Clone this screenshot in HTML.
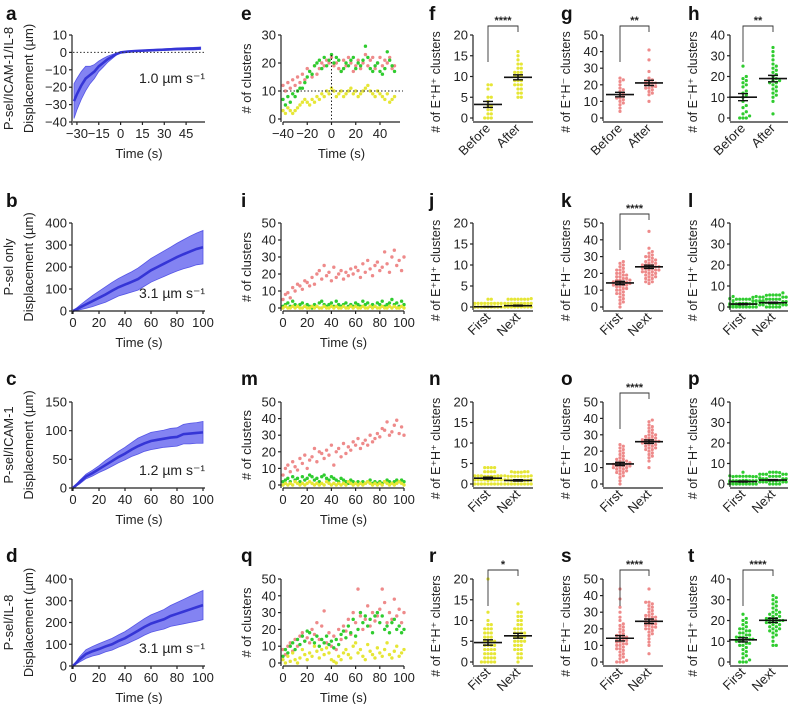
<!DOCTYPE html>
<html><head><meta charset="utf-8">
<style>
html,body{margin:0;padding:0;background:#fff;}
svg{display:block;font-family:"Liberation Sans",sans-serif;}
</style></head>
<body>
<svg id="fig" width="788" height="704" viewBox="0 0 788 704" xmlns="http://www.w3.org/2000/svg"></svg>
<script>
// ---------- data ----------
const timesA=[-32,-30,-27,-24,-21,-18,-15,-12,-9,-6,-3,0,5,10,20,30,40,50,55];
const meanA=[-28,-24,-19,-15,-13,-11,-8,-6,-4,-2.5,-1,0,0.5,0.8,1.2,1.6,2,2.2,2.4];
const sdA=[10,9,8,7,5,4,3,2.5,1.8,1.2,0.6,0.2,0.3,0.3,0.4,0.5,0.6,0.7,0.7];
const timesLine=[0,5,10,15,20,25,30,35,40,45,50,55,60,65,70,75,80,85,90,95,100];
const meanB=[0,15,30,45,60,75,92,108,120,132,145,165,185,200,215,230,245,258,270,282,290];
const sdB=[0,10,18,25,30,35,38,40,43,46,50,52,54,56,58,60,63,66,70,72,76];
const meanC=[0,10,20,26,33,40,47,54,60,67,73,78,82,84,86,88,89,94,95,96,97];
const sdC=[0,3,4,5,6,8,9,10,11,12,14,14,15,15,15,16,16,17,18,18,19];
const meanD=[0,30,55,68,78,90,100,115,128,145,162,180,195,205,215,230,240,250,260,270,280];
const sdD=[0,12,20,22,25,25,27,28,30,33,36,38,40,42,45,48,52,56,60,64,67];

const timesE=[-40,-38,-36,-34,-32,-30,-28,-26,-24,-22,-20,-18,-16,-14,-12,-10,-8,-6,-4,-2,0,2,4,6,8,10,12,14,16,18,20,22,24,26,28,30,32,34,36,38,40,42,44,46,48,50,52];
const redE=[12,10,13,11,14,12,15,13,16,14,18,17,15,19,16,18,20,19,21,20,22,19,20,18,17,21,19,22,20,17,19,21,18,20,23,19,21,22,18,20,22,19,21,20,22,18,19];
const greenE=[7,5,8,6,9,8,10,11,11,13,15,17,16,19,20,21,18,22,19,21,23,20,22,21,17,18,20,19,21,22,18,20,19,21,26,22,18,17,19,20,17,16,18,24,21,19,17];
const yellowE=[3,2,4,3,2,3,4,5,6,7,6,5,7,6,8,7,9,8,10,9,11,10,8,9,10,8,9,10,11,9,10,8,9,10,11,12,10,9,8,10,9,8,7,9,6,7,8];
const timesB=[0,2,4,6,8,10,12,14,16,18,20,22,24,26,28,30,32,34,36,38,40,42,44,46,48,50,52,54,56,58,60,62,64,66,68,70,72,74,76,78,80,82,84,86,88,90,92,94,96,98,100];
const redI=[5,8,9,6,12,10,14,13,11,16,15,13,18,14,20,22,17,25,19,21,16,24,18,20,22,17,21,19,23,20,24,22,18,26,21,28,23,19,25,27,22,24,33,26,21,30,34,25,28,22,30];
const greenI=[1,2,3,1,4,2,1,2,3,1,2,1,0,2,1,3,4,2,1,2,3,1,4,2,1,2,3,1,2,1,3,2,1,4,2,3,1,2,1,3,2,4,1,2,3,5,2,3,1,4,2];
const yellowI=[0,1,0,0,1,0,1,0,0,1,0,0,1,0,1,0,0,1,0,0,1,0,1,0,0,1,0,0,1,0,1,0,0,1,0,0,1,0,1,0,0,1,0,0,1,0,1,0,0,1,0];
const redM=[6,10,12,8,14,11,9,16,13,18,10,15,17,22,14,20,19,16,21,18,24,12,20,22,17,25,19,23,21,26,24,28,22,25,27,24,30,26,28,31,29,34,33,38,30,32,36,39,31,35,30];
const greenM=[2,3,4,2,5,3,4,2,5,3,4,6,5,3,4,2,5,6,4,3,5,4,3,2,4,3,2,1,3,2,1,2,1,2,1,2,3,1,2,1,2,1,2,3,2,1,2,3,2,3,2];
const yellowM=[0,1,0,1,0,2,1,0,1,0,1,2,1,0,1,0,1,0,2,1,0,1,0,1,0,1,0,2,1,0,1,0,1,0,1,2,1,0,1,0,1,0,2,1,0,1,0,1,2,1,0];
const redQ=[8,5,10,12,7,14,10,16,18,13,15,12,20,17,24,14,22,31,12,18,10,16,8,20,14,22,19,26,17,30,24,44,28,20,26,34,22,30,25,28,32,44,36,24,30,26,38,28,32,24,30];
const greenQ=[4,8,6,10,12,8,14,11,16,13,19,18,14,12,16,10,14,12,16,11,13,9,14,11,17,19,15,22,18,26,16,20,30,24,28,22,26,18,28,30,24,28,20,22,18,24,26,20,22,18,20];
const yellowQ=[2,0,4,1,6,2,0,3,8,5,2,6,4,10,7,3,8,5,9,6,2,1,0,4,2,6,8,5,3,10,12,6,8,4,2,11,7,5,3,9,6,4,8,12,5,3,7,10,4,6,8];

const catsRow1=['Before','After'];
const catsOther=['First','Next'];
const fBefore=[0,0,0,1,1,2,2,3,3,4,5,5,7,8,8];
const fAfter=[5,5,6,6,7,7,8,8,8,9,9,9,10,10,10,11,11,11,12,12,13,13,14,15,16];
const gBefore=[4,6,8,9,10,11,12,12,13,14,15,16,17,18,20,22,23,24];
const gAfter=[10,14,15,16,17,18,18,19,19,20,20,21,21,22,22,23,24,28,35,41];
const hBefore=[0,0,0,1,2,3,5,6,8,10,11,12,13,15,16,17,18,19,20,25];
const hAfter=[2,8,10,11,12,13,14,15,16,17,17,18,18,19,20,21,22,23,24,25,26,28,30,32,34];
const jFirst=[0,0,0,0,0,0,0,0,0,0,0,0,0,0,0,0,0,0,0,0,0,0,0,0,0,0,0,0,0,0,1,1];
const jNext=[0,0,0,0,0,0,0,0,0,0,0,0,0,0,0,0,0,0,0,0,1,1,1,1,1,1,1,2];
const kFirst=[0,2,3,4,5,6,7,8,8,9,10,10,11,11,12,12,13,13,13,14,14,14,15,15,15,16,16,16,17,17,18,18,19,19,20,20,21,22,22,23,24,25,26,27];
const kNext=[14,15,15,16,17,17,18,18,19,19,20,20,21,21,21,22,22,22,23,23,23,24,24,24,25,25,25,26,26,27,27,28,28,29,30,30,31,32,33,35,45];
const lFirst=[0,0,0,0,0,0,0,0,0,0,0,0,1,1,1,1,1,1,1,1,1,1,2,2,2,2,2,3,3,3,4,4,5,5];
const lNext=[0,0,0,0,0,1,1,1,1,1,1,1,1,2,2,2,2,2,2,2,2,2,2,3,3,3,3,3,3,4,4,4,4,5,5];
const nFirst=[0,0,0,0,0,0,0,0,0,0,1,1,1,1,1,1,1,1,1,1,1,1,2,2,2,2,2,3,3,3,3,4,4,4,4];
const nNext=[0,0,0,0,0,0,0,0,0,0,0,0,0,0,0,1,1,1,1,1,1,1,1,1,1,2,2,2,2,2,3,3,3];
const oFirst=[0,2,4,5,6,7,7,8,8,9,9,10,10,10,11,11,11,12,12,12,13,13,13,14,14,15,15,16,17,18,19,20,21,22,23,24];
const oNext=[10,14,16,17,18,19,20,21,21,22,22,23,23,24,24,25,25,25,26,26,26,27,27,27,28,28,29,29,30,30,31,32,33,34,35,36,38,39];
const pFirst=[0,0,0,0,0,0,0,0,0,0,0,1,1,1,1,1,1,1,1,1,1,2,2,2,2,2,3,3,3,4,4];
const pNext=[0,0,0,0,1,1,1,1,1,1,1,1,1,2,2,2,2,2,2,2,2,2,3,3,3,3,3,3,4,4,4,5];
const rFirst=[0,0,0,0,0,1,1,1,1,2,2,2,2,3,3,3,3,4,4,4,4,5,5,5,5,6,6,6,7,7,7,8,8,8,9,9,10,12,20];
const rNext=[0,1,1,2,2,3,3,3,4,4,4,5,5,5,5,6,6,6,6,7,7,7,7,8,8,8,9,9,10,10,11,11,12,12,14];
const sFirst=[0,0,0,1,2,3,4,5,6,7,8,8,9,10,10,11,11,12,12,13,13,14,14,15,15,16,16,17,18,19,20,21,22,23,25,27,30,33,38,44];
const sNext=[5,10,12,14,16,17,18,19,20,20,21,21,22,22,23,23,24,24,25,25,26,26,27,27,28,28,29,30,31,32,33,34,35,36,36,44];
const tFirst=[0,0,0,1,2,3,4,5,6,7,8,8,9,9,10,10,10,11,11,11,12,12,12,13,13,14,14,15,15,16,16,17,18,19,20,21,23];
const tNext=[8,8,10,12,13,14,15,15,16,16,17,17,18,18,19,19,19,20,20,20,21,21,21,22,22,23,23,24,24,25,26,27,28,29,30,31,32];

// ---------- helpers ----------
const NS='http://www.w3.org/2000/svg';
const svg=document.getElementById('fig');
function mk(tag,attrs,parent){const e=document.createElementNS(NS,tag);for(const k in attrs)e.setAttribute(k,attrs[k]);(parent||svg).appendChild(e);return e;}
function txt(str,attrs,parent){const e=mk('text',attrs,parent);e.textContent=str;return e;}
const RED='#ee8a8a',GREEN='#2fcc2f',YEL='#e6e636';
const rowTop=[35,223,402,579],rowBot=[122,311,488,666],letterY=[20,207,385,562];
function sx(p,v){return p.x0+(v-p.xd[0])/(p.xd[1]-p.xd[0])*(p.x1-p.x0);}
function sy(p,v){return p.top+(p.yd[1]-v)/(p.yd[1]-p.yd[0])*(p.bot-3-p.top);}

function panelLetter(ch,x,y){
  const t=txt(ch,{x:x,y:y,'font-size':19,'font-weight':'bold',fill:'#111'});
  
  
}
function yTitle(g,str,x,yc,size){
  const t=txt(str,{x:x,y:yc,'font-size':size||13,'text-anchor':'middle',fill:'#222',transform:'rotate(-90 '+x+' '+yc+')'},g);
  
  
}
function yAxis(g,p,ticks,axX){
  const ax=mk('line',{x1:axX,y1:p.top,x2:axX,y2:p.bot,stroke:'#222','stroke-width':1.2},g);
  
  
  ticks.forEach(v=>{const y=sy(p,v);
    mk('line',{x1:axX-3,y1:y,x2:axX,y2:y,stroke:'#222','stroke-width':1.2},g);
    const t=txt(String(v).replace('-','\u2212'),{x:axX-5,y:y+4.5,'font-size':13,'text-anchor':'end',fill:'#222'},g);
    
    
  });
}
function xAxis(g,p,ticks,x2){
  const ax=mk('line',{x1:p.x0,y1:p.bot,x2:x2,y2:p.bot,stroke:'#222','stroke-width':1.2},g);
  
  
  ticks.forEach(v=>{const x=sx(p,v);
    mk('line',{x1:x,y1:p.bot,x2:x,y2:p.bot+3,stroke:'#222','stroke-width':1.2},g);
    const t=txt(String(v).replace('-','\u2212'),{x:x,y:p.bot+16,'font-size':13,'text-anchor':'middle',fill:'#222'},g);
    
    
  });
  const tt=txt('Time (s)',{x:(p.x0+x2)/2,y:p.bot+36,'font-size':13,'text-anchor':'middle',fill:'#222'},g);
  
  
}

// ---------- line (displacement) panels ----------
function linePanel(name,row,times,mean,sd,yd,yticks,xd,xticks,cond,speed,speedDy){
  const g=mk('g',{});
  
  
  const p={x0:73,x1:203,top:rowTop[row],bot:rowBot[row]+3,xd:xd,yd:yd};
  let up=[],dn=[],ln=[];
  times.forEach((t,i)=>{up.push(sx(p,t)+','+sy(p,mean[i]+sd[i]));dn.unshift(sx(p,t)+','+sy(p,Math.max(yd[0],mean[i]-sd[i])));ln.push(sx(p,t)+','+sy(p,mean[i]));});
  const band=mk('polygon',{points:up.concat(dn).join(' '),fill:'#8383f2',stroke:'#5555e6','stroke-width':0.8},g);
  
  
  const line=mk('polyline',{points:ln.join(' '),fill:'none',stroke:'#3535d6','stroke-width':2.6},g);
  
  
  if(yd[0]<0){const z=sy(p,0);
    const d=mk('line',{x1:p.x0,y1:z,x2:205,y2:z,stroke:'#333','stroke-width':1,'stroke-dasharray':'1.5,2'},g);
    
    }
  yAxis(g,p,yticks,72);
  const xp={x0:73,x1:203,top:p.top,bot:rowBot[row],xd:xd,yd:yd};
  xAxis(g,xp,xticks,205);
  yTitle(g,'Displacement (\u00b5m)',33,(p.top+xp.bot)/2);
  yTitle(g,cond,13,(p.top+xp.bot)/2);
  const s=txt(speed,{x:172,y:xp.bot-speedDy,'font-size':14,'text-anchor':'middle',fill:'#222'},g);
  
  
}

linePanel('a',0,timesA,meanA,sdA,[-40,10],[10,0,-10,-20,-30,-40],[-32.7,56.6],[-30,-15,0,15,30,45],'P-sel/ICAM-1/IL-8','1.0 \u00b5m s\u207b\u00b9',39);
linePanel('b',1,timesLine,meanB,sdB,[0,400],[400,300,200,100,0],[0,100],[0,20,40,60,80,100],'P-sel only','3.1 \u00b5m s\u207b\u00b9',13);
linePanel('c',2,timesLine,meanC,sdC,[0,150],[150,100,50,0],[0,100],[0,20,40,60,80,100],'P-sel/ICAM-1','1.2 \u00b5m s\u207b\u00b9',13);
linePanel('d',3,timesLine,meanD,sdD,[0,400],[400,300,200,100,0],[0,100],[0,20,40,60,80,100],'P-sel/IL-8','3.1 \u00b5m s\u207b\u00b9',13);

// ---------- time scatter panels ----------
function scatterPanel(name,row,times,series,yd,yticks,xd,xticks,x1,guides){
  const g=mk('g',{});
  
  
  const p={x0:283,x1:x1,top:rowTop[row],bot:rowBot[row],xd:xd,yd:yd};
  series.forEach(s=>{
    const sg=mk('g',{},g);
    
    
    times.forEach((t,i)=>{
      const c=mk('circle',{cx:sx(p,t),cy:sy(p,s.vals[i]),r:1.7,fill:s.color},sg);
      
      
    });
  });
  if(guides){
    const h=mk('line',{x1:p.x0,y1:sy(p,10),x2:403,y2:sy(p,10),stroke:'#222','stroke-width':1,'stroke-dasharray':'1.5,2'},g);
    
    
    const v=mk('line',{x1:sx(p,0),y1:p.top+20,x2:sx(p,0),y2:p.bot,stroke:'#222','stroke-width':1,'stroke-dasharray':'1.5,2'},g);
    
    
  }
  yAxis(g,p,yticks,281);
  xAxis(g,p,xticks,Math.max(x1,400));
  yTitle(g,'# of clusters',251,(p.top+p.bot)/2);
}
scatterPanel('e',0,timesE,[{name:'red',vals:redE,color:RED},{name:'green',vals:greenE,color:GREEN},{name:'yellow',vals:yellowE,color:YEL}],[0,30],[30,20,10,0],[-40,56.5],[-40,-20,0,20,40],400,true);
scatterPanel('i',1,timesB,[{name:'red',vals:redI,color:RED},{name:'green',vals:greenI,color:GREEN},{name:'yellow',vals:yellowI,color:YEL}],[0,50],[50,40,30,20,10,0],[0,100],[0,20,40,60,80,100],404,false);
scatterPanel('m',2,timesB,[{name:'red',vals:redM,color:RED},{name:'green',vals:greenM,color:GREEN},{name:'yellow',vals:yellowM,color:YEL}],[0,50],[50,40,30,20,10,0],[0,100],[0,20,40,60,80,100],404,false);
scatterPanel('q',3,timesB,[{name:'red',vals:redQ,color:RED},{name:'green',vals:greenQ,color:GREEN},{name:'yellow',vals:yellowQ,color:YEL}],[0,50],[50,40,30,20,10,0],[0,100],[0,20,40,60,80,100],404,false);

// ---------- swarm panels ----------
function swarmPanel(name,row,axX,offs,cats,groups,color,yd,yticks,title,stars){
  const g=mk('g',{});
  
  
  const p={x0:axX,x1:axX+60,top:rowTop[row],bot:rowBot[row]-1,xd:[0,1],yd:yd};
  groups.forEach((vals,gi)=>{
    const cx=axX+offs[gi];
    const sg=mk('g',{},g);
    
    
    const placed=[];
    [...vals].sort((a,b)=>a-b).forEach(v=>{
      const y0=sy(p,v);let x=cx,y=y0,found=false;
      for(let layer=0;layer<4&&!found;layer++){
        y=y0-layer*1.2*(layer%2?1:-1);
        for(let k=0;k<9;k++){
          const off=(k%2?1:-1)*Math.ceil(k/2)*3.3;x=cx+off;
          if(!placed.some(q=>Math.hypot(q[0]-x,q[1]-y)<3.0)){found=true;break;}
        }
      }
      if(!found){x=cx+((placed.length%9)-4)*3.3;y=y0;}
      placed.push([x,y]);
      const c=mk('circle',{cx:x,cy:y,r:1.6,fill:color},sg);
      
      
    });
    const n=vals.length,m=vals.reduce((a,b)=>a+b,0)/n;
    const sd=Math.sqrt(vals.reduce((a,b)=>a+(b-m)*(b-m),0)/(n-1)),se=sd/Math.sqrt(n);
    const ml=mk('line',{x1:cx-14,y1:sy(p,m),x2:cx+14,y2:sy(p,m),stroke:'#111','stroke-width':1.6},g);
    
    
    const eb=mk('path',{d:`M${cx},${sy(p,m+se)}V${sy(p,m-se)}M${cx-5},${sy(p,m+se)}H${cx+5}M${cx-5},${sy(p,m-se)}H${cx+5}`,stroke:'#111','stroke-width':1.4,fill:'none'},g);
    
    
    const cl=txt(cats[gi],{x:cx+3,y:p.bot+8,'font-size':13,'text-anchor':'end',fill:'#222',transform:`rotate(-45 ${cx+3} ${p.bot+8})`},g);
    
    
  });
  yAxis(g,p,yticks,axX);
  const xa=mk('line',{x1:axX,y1:p.bot+1,x2:axX+60,y2:p.bot+1,stroke:'#222','stroke-width':1.2},g);
  
  
  yTitle(g,title,axX-33,(p.top+p.bot)/2+4,12.5);
  if(stars){
    const by=p.top-9,x1=axX+offs[0],x2=axX+offs[1];
    const br=mk('path',{d:`M${x1},${p.top+27}V${by}H${x2}V${by+6}`,stroke:'#333','stroke-width':0.9,fill:'none'},g);
    
    
    const st=txt(stars,{x:(x1+x2)/2,y:by-2,'font-size':11,'font-weight':'bold','text-anchor':'middle',fill:'#222'},g);
    
    
  }
}
const T1='# of E\u207aH\u207a clusters',T2='# of E\u207aH\u207b clusters',T3='# of E\u207bH\u207a clusters';
const Y1=[0,20],Y1t=[20,15,10,5,0],Y2=[0,50],Y2t=[50,40,30,20,10,0],Y3=[0,40],Y3t=[40,30,20,10,0];
swarmPanel('f',0,473,[15,45],catsRow1,[fBefore,fAfter],YEL,Y1,Y1t,T1,'****');
swarmPanel('g',0,603,[17,46],catsRow1,[gBefore,gAfter],RED,Y2,Y2t,T2,'**');
swarmPanel('h',0,730,[13,43],catsRow1,[hBefore,hAfter],GREEN,Y3,Y3t,T3,'**');
swarmPanel('j',1,473,[15,45],catsOther,[jFirst,jNext],YEL,Y1,Y1t,T1,null);
swarmPanel('k',1,603,[17,46],catsOther,[kFirst,kNext],RED,Y2,Y2t,T2,'****');
swarmPanel('l',1,730,[13,43],catsOther,[lFirst,lNext],GREEN,Y3,Y3t,T3,null);
swarmPanel('n',2,473,[15,45],catsOther,[nFirst,nNext],YEL,Y1,Y1t,T1,null);
swarmPanel('o',2,603,[17,46],catsOther,[oFirst,oNext],RED,Y2,Y2t,T2,'****');
swarmPanel('p',2,730,[13,43],catsOther,[pFirst,pNext],GREEN,Y3,Y3t,T3,null);
swarmPanel('r',3,473,[15,45],catsOther,[rFirst,rNext],YEL,Y1,Y1t,T1,'*');
swarmPanel('s',3,603,[17,46],catsOther,[sFirst,sNext],RED,Y2,Y2t,T2,'****');
swarmPanel('t',3,730,[13,43],catsOther,[tFirst,tNext],GREEN,Y3,Y3t,T3,'****');

// ---------- panel letters ----------
const lettersCols=[[6,'abcd'],[241,'eimq'],[429,'fjnr'],[561,'gkos'],[688,'hlpt']];
lettersCols.forEach(([x,s])=>{for(let r=0;r<4;r++)panelLetter(s[r],x,letterY[r]);});
</script>
</body></html>
